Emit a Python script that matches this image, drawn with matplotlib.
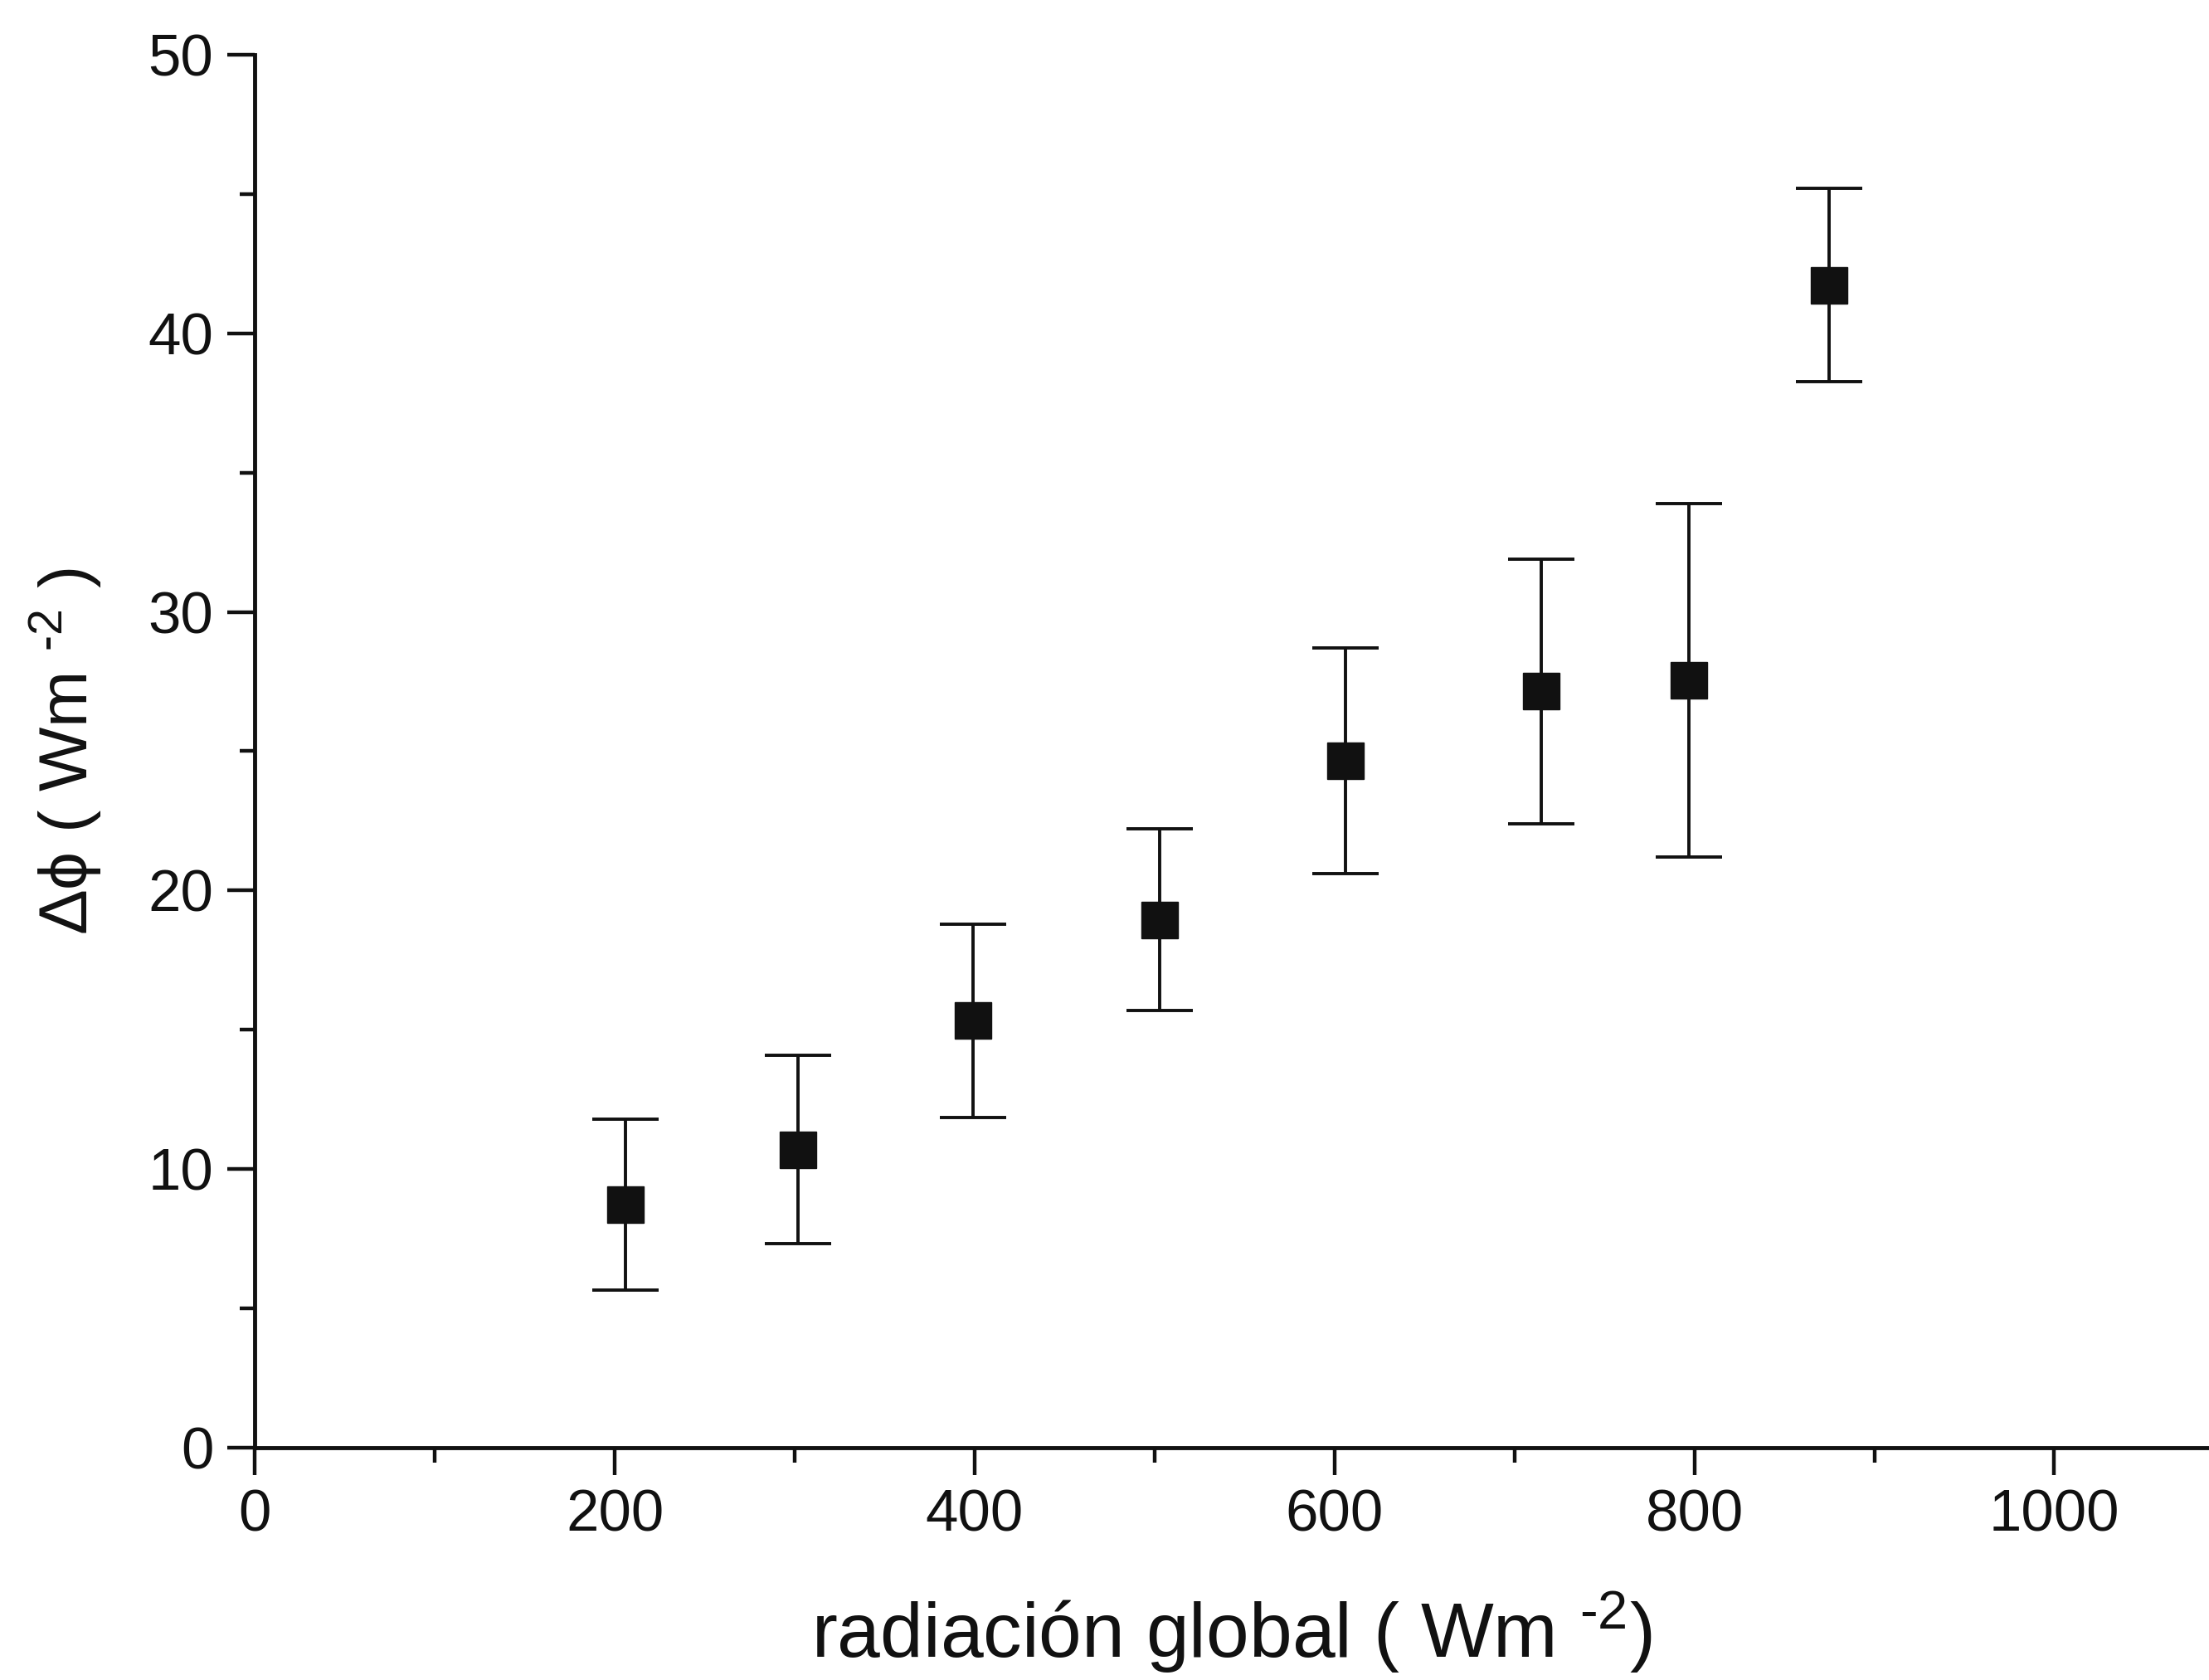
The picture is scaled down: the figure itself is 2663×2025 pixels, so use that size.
import numpy as np
import matplotlib.pyplot as plt
from matplotlib.ticker import MultipleLocator

plt.rcParams['font.family'] = ['Liberation Sans', 'DejaVu Sans']
plt.rcParams['mathtext.default'] = 'regular'

# radiación global (W m-2), diferencia de flujo y su error
rad = [206, 302, 399, 503, 606, 715, 797, 875]
dphi = [8.73, 10.7, 15.32, 18.95, 24.65, 27.15, 27.55, 41.73]
err = [3.07, 3.37, 3.48, 3.25, 4.05, 4.75, 6.35, 3.47]

fig = plt.figure(figsize=(26.63, 20.25), dpi=100)
ax = fig.add_axes([0.1154, 0.1384, 0.8846, 0.8289])

ax.errorbar(rad, dphi, yerr=err, fmt='s', color='#111111', ms=31,
            ecolor='#111111', elinewidth=2.8, capsize=29, capthick=2.8)

ax.set_xlim(0, 1086)
ax.set_ylim(0, 50)
ax.xaxis.set_major_locator(MultipleLocator(200))
ax.xaxis.set_minor_locator(MultipleLocator(100))
ax.yaxis.set_major_locator(MultipleLocator(10))
ax.yaxis.set_minor_locator(MultipleLocator(5))

for s in ['top', 'right']:
    ax.spines[s].set_visible(False)
for s in ['left', 'bottom']:
    ax.spines[s].set_linewidth(3.5)
    ax.spines[s].set_color('#111111')

ax.tick_params(which='major', direction='out', length=24, width=3.2,
               labelsize=51, pad=12, colors='#111111')
ax.tick_params(which='minor', direction='out', length=13, width=3.2,
               colors='#111111')

ax.set_xlabel('radiación global ( Wm $^{\u20102}$)', fontsize=67, labelpad=40,
              color='#111111')
ax.set_ylabel('Δϕ ( Wm $^{\u20102}$ )', fontsize=59, labelpad=38,
              color='#111111')

fig.savefig('out.png', dpi=100, facecolor='white')
